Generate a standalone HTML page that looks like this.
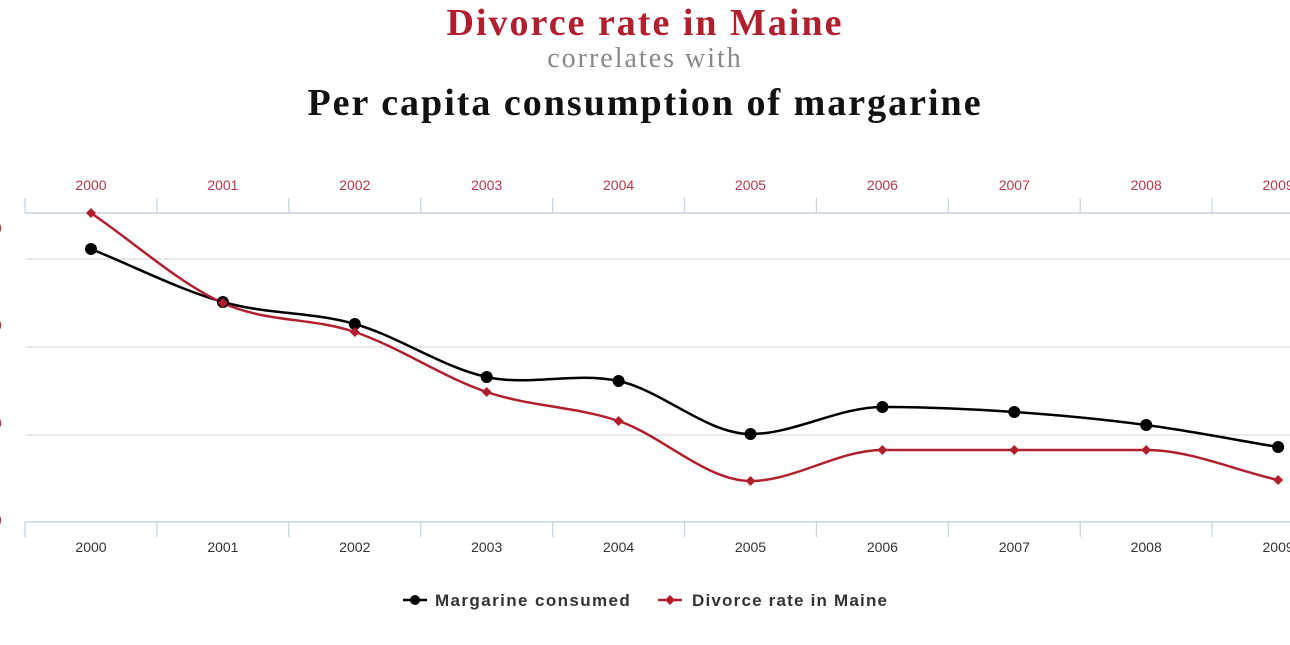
<!DOCTYPE html>
<html><head><meta charset="utf-8"><style>
html,body{margin:0;padding:0;background:#fff;width:1290px;height:645px;overflow:hidden}
.t{position:absolute;left:0;width:1290px;text-align:center;font-family:"Liberation Serif",serif}
</style></head><body>
<div class="t" style="top:1px;font-size:38px;letter-spacing:2px;font-weight:bold;color:#b11f2f">Divorce rate in Maine</div>
<div class="t" style="top:43px;font-size:28px;letter-spacing:2px;color:#888">correlates with</div>
<div class="t" style="top:81px;font-size:38px;letter-spacing:2px;font-weight:bold;color:#111">Per capita consumption of margarine</div>
<svg id="s" width="1290" height="645" style="position:absolute;left:0;top:0" font-family="Liberation Sans, sans-serif"></svg>
<script>
var s=document.getElementById('s'),h='';
var xs=[],i;for(i=0;i<10;i++)xs.push(91+i*131.9);
[259,347,435].forEach(function(y){h+='<line x1="25" x2="1290" y1="'+y+'" y2="'+y+'" stroke="#dde3ea" stroke-width="1.5"/>';});
h+='<line x1="25" x2="1290" y1="213" y2="213" stroke="#c8d3e0" stroke-width="1.5"/>';
h+='<line x1="25" x2="1290" y1="522" y2="522" stroke="#c8d3e0" stroke-width="1.5"/>';
for(i=0;i<10;i++){var tx=25+i*131.9;
h+='<line x1="'+tx+'" x2="'+tx+'" y1="198" y2="213" stroke="#c8d3e0" stroke-width="1.2"/>';
h+='<line x1="'+tx+'" x2="'+tx+'" y1="522" y2="537" stroke="#c8d3e0" stroke-width="1.2"/>';
h+='<text x="'+xs[i]+'" y="190" text-anchor="middle" font-size="14" fill="#b5384a">'+(2000+i)+'</text>';
h+='<text x="'+xs[i]+'" y="552" text-anchor="middle" font-size="14" fill="#333">'+(2000+i)+'</text>';}
[228,325,423,520].forEach(function(y){h+='<text x="-6" y="'+(y+5)+'" font-size="14" fill="#b5384a">0</text>';});
function path(ys){var d='M'+xs[0]+' '+ys[0];
for(var k=0;k<9;k++){var dx=xs[k+1]-xs[k];
var s0=k==0?(ys[1]-ys[0])/dx:(ys[k+1]-ys[k-1])/(2*dx);
var s1=k==8?(ys[9]-ys[8])/dx:(ys[k+2]-ys[k])/(2*dx);
if((ys[k]-ys[k-1])*(ys[k+1]-ys[k])<=0&&k>0)s0=0;
if(k<8&&(ys[k+1]-ys[k])*(ys[k+2]-ys[k+1])<=0)s1=0;
d+=' C'+(xs[k]+dx/3)+' '+(ys[k]+s0*dx/3)+' '+(xs[k+1]-dx/3)+' '+(ys[k+1]-s1*dx/3)+' '+xs[k+1]+' '+ys[k+1];}
return d;}
var b=[249,302,324,377,381,434,407,412,425,447],r=[213,303,332,392,421,481,450,450,450,480];
h+='<path d="'+path(b)+'" fill="none" stroke="#000" stroke-width="2.5"/>';
h+='<path d="'+path(r)+'" fill="none" stroke="#b11f2f" stroke-width="2.5"/>';
for(i=0;i<10;i++){h+='<circle cx="'+xs[i]+'" cy="'+b[i]+'" r="6" fill="#000"/>';
h+='<path d="M'+xs[i]+' '+(r[i]-5)+' l5 5 l-5 5 l-5 -5z" fill="#b11f2f"/>';}
h+='<line x1="403" x2="427" y1="600" y2="600" stroke="#000" stroke-width="2.5"/><circle cx="415" cy="600" r="5" fill="#000"/>';
h+='<text x="435" y="606" font-size="17" letter-spacing="1.4" font-weight="bold" fill="#333">Margarine consumed</text>';
h+='<line x1="658" x2="682" y1="600" y2="600" stroke="#b11f2f" stroke-width="2.5"/><path d="M670 595 l5 5 l-5 5 l-5 -5z" fill="#b11f2f"/>';
h+='<text x="692" y="606" font-size="17" letter-spacing="1.2" font-weight="bold" fill="#333">Divorce rate in Maine</text>';
s.innerHTML=h;
</script>
</body></html>
